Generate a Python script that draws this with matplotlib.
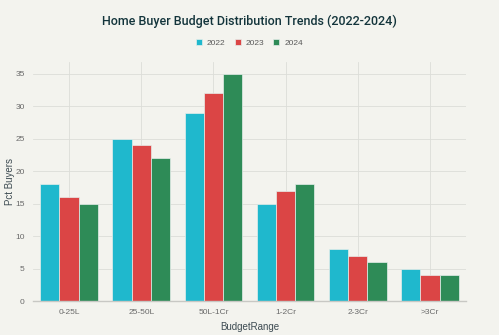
import matplotlib
matplotlib.use("Agg")
import matplotlib.pyplot as plt
import numpy as np

categories = ["0-25L", "25-50L", "50L-1Cr", "1-2Cr", "2-3Cr", ">3Cr"]
years = ["2022", "2023", "2024"]
v2022 = [18, 25, 29, 15, 8, 5]
v2023 = [16, 24, 32, 17, 7, 4]
v2024 = [15, 22, 35, 18, 6, 4]
series = [v2022, v2023, v2024]
colors = ["#1FB8CD", "#DB4545", "#2E8B57"]

plt.rcParams["font.family"] = ["Liberation Sans", "DejaVu Sans"]

bg = "#F3F3EE"
fig = plt.figure(figsize=(4.99, 3.35), dpi=100, facecolor=bg)
ax = fig.add_axes([33/499, 1-301/335, (466-33)/499, (301-62)/335], facecolor=bg)

x = np.arange(len(categories))
w = 0.8 / 3
for i, (vals, c, yr) in enumerate(zip(series, colors, years)):
    ax.bar(x + (i - 1) * w, vals, width=w, color=c, edgecolor="#E6EEEA",
           linewidth=0.5, label=yr, zorder=3)

ax.set_xlim(-0.5, len(categories) - 0.5)
ax.set_ylim(0, 36.85)
ax.set_yticks([0, 5, 10, 15, 20, 25, 30, 35])
ax.set_xticks(x)
ax.set_xticklabels(categories)
ax.grid(True, color="#DCDDD8", linewidth=0.6, zorder=0)
for s in ["top", "right", "left"]:
    ax.spines[s].set_visible(False)
ax.spines["bottom"].set_color("#C8C8C4")
ax.spines["bottom"].set_linewidth(1.0)
ax.spines["bottom"].set_zorder(4)
ax.tick_params(axis="both", length=0, labelsize=6, labelcolor="#6A6A6A")
ax.tick_params(axis="x", pad=6)
ax.tick_params(axis="y", pad=6)

ax.set_xlabel("BudgetRange", fontsize=7, color="#3D4B52")
ax.set_ylabel("Pct Buyers", fontsize=7, color="#3D4B52")
ax.xaxis.set_label_coords(0.5, -(327-301)/(301-62), transform=ax.transAxes)
ax.yaxis.set_label_coords(-(33-10)/(466-33), 0.5, transform=ax.transAxes)
ax.xaxis.label.set_va("center")
ax.yaxis.label.set_va("center")

fig.text(0.5, 1-21/335, "Home Buyer Budget Distribution Trends (2022-2024)",
         ha="center", va="center", fontsize=9, color="#13343B",
         family=["Roboto", "Liberation Sans", "DejaVu Sans"], fontweight="medium")
fig.legend(loc="center", bbox_to_anchor=(0.5, 1-43/335), ncol=3, frameon=False,
           fontsize=6, handlelength=0.7, handleheight=0.7, columnspacing=1.1,
           handletextpad=0.6, labelcolor="#5A5A5A")

fig.savefig("out.png", dpi=100, facecolor=bg)
